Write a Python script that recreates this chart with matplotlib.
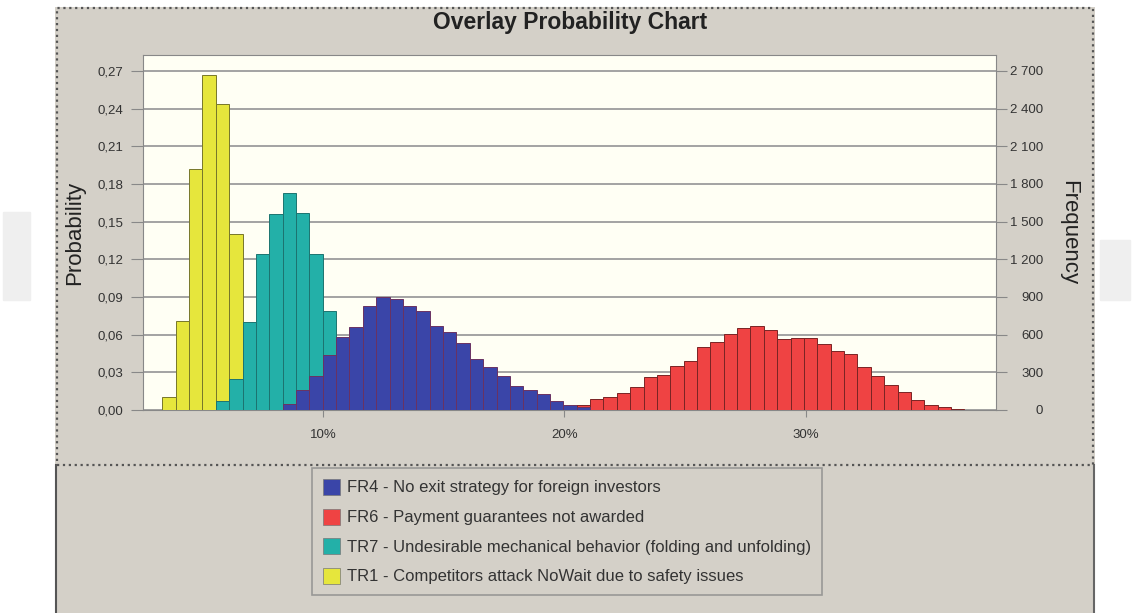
import matplotlib.pyplot as plt
from matplotlib.patches import Rectangle, Patch
from matplotlib.lines import Line2D
import numpy as np

plt.rcParams['font.family'] = ['Liberation Sans', 'DejaVu Sans']

# shared histogram bins (x axis in %)
bin_lo = 3.35
bin_w = 0.5535

# probability per bin, each series starts at its own first bin index
tr1_start = 0
tr1 = [0.010, 0.071, 0.192, 0.267, 0.244, 0.140]
tr7_start = 4
tr7 = [0.007, 0.025, 0.070, 0.124, 0.156, 0.173, 0.157, 0.124, 0.079]
fr4_start = 9
fr4 = [0.005, 0.016, 0.027, 0.044, 0.058, 0.066, 0.083, 0.090, 0.088, 0.083,
       0.079, 0.067, 0.062, 0.053, 0.041, 0.034, 0.027, 0.019, 0.016, 0.013,
       0.0074, 0.004, 0.0025]
fr6_start = 31
fr6 = [0.004, 0.0085, 0.010, 0.0135, 0.018, 0.0265, 0.028, 0.035, 0.039, 0.050,
       0.054, 0.0605, 0.0656, 0.067, 0.0637, 0.0563, 0.0576, 0.0576, 0.0526, 0.047,
       0.0443, 0.0345, 0.027, 0.020, 0.0146, 0.008, 0.004, 0.002, 0.001]

labels = {'fr4': 'FR4 - No exit strategy for foreign investors',
          'fr6': 'FR6 - Payment guarantees not awarded',
          'tr7': 'TR7 - Undesirable mechanical behavior (folding and unfolding)',
          'tr1': 'TR1 - Competitors attack NoWait due to safety issues'}
legend_order = ['fr4', 'fr6', 'tr7', 'tr1']

prob_ticks = [0.00, 0.03, 0.06, 0.09, 0.12, 0.15, 0.18, 0.21, 0.24, 0.27]
freq_ticks = [0, 300, 600, 900, 1200, 1500, 1800, 2100, 2400, 2700]
x_ticks = [10, 20, 30]

panel = '#d4d0c8'
fig = plt.figure(figsize=(11.35, 6.13), dpi=100)
fig.patch.set_facecolor('white')

W, H = 1135.0, 613.0
def fx(px):
    return px / W
def fy(py):
    return 1 - py / H

# faint watermark shapes behind the panel
fig.patches.append(Rectangle((fx(3), fy(300)), fx(27), (300 - 212) / H,
                             transform=fig.transFigure, color='#efefef', zorder=-20))
fig.patches.append(Rectangle((fx(1100), fy(300)), fx(30), (300 - 240) / H,
                             transform=fig.transFigure, color='#efefef', zorder=-20))

# grey chart panel
fig.patches.append(Rectangle((fx(55), 0), fx(1040), (H - 7) / H, transform=fig.transFigure,
                             facecolor=panel, edgecolor='none', zorder=-10))
fig.patches.append(Rectangle((fx(57), fy(465)), fx(1036), (465 - 8) / H,
                             transform=fig.transFigure, facecolor='none',
                             edgecolor='#555555', linestyle=':', linewidth=1.6, zorder=-5))
fig.lines.append(Line2D([fx(55.5), fx(55.5)], [0, fy(465)], transform=fig.transFigure,
                        color='#555555', lw=1.5, zorder=-5))
fig.lines.append(Line2D([fx(1094), fx(1094)], [0, fy(465)], transform=fig.transFigure,
                        color='#666666', lw=1.5, zorder=-5))

ax = fig.add_axes([fx(143), fy(410), fx(996 - 143), (410 - 55) / H])
ax.set_facecolor('#fffff4')

series = {
    'tr1': (tr1_start, tr1, '#e6e63c', '#77772a'),
    'tr7': (tr7_start, tr7, '#23b0a8', '#1c7470'),
    'fr4': (fr4_start, fr4, '#3a45a8', '#6a3262'),
    'fr6': (fr6_start, fr6, '#ef4343', '#7a2424'),
}
for key, (start, vals, col, edge) in series.items():
    lefts = bin_lo + bin_w * (start + np.arange(len(vals)))
    bars = ax.bar(lefts, vals, width=bin_w, align='edge', color=col,
                  edgecolor=edge, linewidth=0.7)
    # smaller bars sit in front where distributions overlap
    for b, v in zip(bars, vals):
        b.set_zorder(3 - v)

handles = [Patch(facecolor=series[k][2], edgecolor='#777777', linewidth=0.5)
           for k in legend_order]

ax.set_xlim(2.55, 37.87)
ax.set_ylim(0, 0.2827)
ax.set_yticks(prob_ticks)
ax.set_yticklabels([f'{v:.2f}'.replace('.', ',') for v in prob_ticks])
ax.set_xticks(x_ticks)
ax.set_xticklabels([f'{v}%' for v in x_ticks])
ax.yaxis.grid(True, color='#9c9c9c', linewidth=1.3, zorder=0)
ax.set_axisbelow(True)
for s in ax.spines.values():
    s.set_color('#888888')
ax.tick_params(axis='y', length=9, color='#888888', labelsize=9.5, labelcolor='#333333', pad=5)
ax.tick_params(axis='x', length=5, color='#888888', labelsize=9.5, labelcolor='#333333', pad=9)
ax.set_ylabel('Probability', fontsize=16, color='#222222', labelpad=9)

ax2 = ax.twinx()
ax2.set_ylim(0, 2827)
ax2.set_yticks(freq_ticks)
ax2.set_yticklabels([f'{v:,}'.replace(',', ' ') for v in freq_ticks], ha='right')
ax2.tick_params(axis='y', length=8, color='#888888', labelsize=9.5, labelcolor='#333333', pad=26)
for s in ax2.spines.values():
    s.set_visible(False)
ax2.set_ylabel('Frequency', fontsize=16, color='#222222', rotation=-90, labelpad=26)

fig.text(fx(570), fy(22), 'Overlay Probability Chart', ha='center', va='center',
         fontsize=16.5, fontweight='bold', color='#222222')

leg = fig.legend(handles, [labels[k] for k in legend_order], loc='upper left',
                 bbox_to_anchor=(fx(312), fy(468)),
                 fontsize=12, frameon=True, fancybox=False, facecolor=panel,
                 edgecolor='#8a8a8a', handlelength=1.0, handleheight=1.1,
                 handletextpad=0.45, labelspacing=0.78, borderpad=0.65, borderaxespad=0)
leg.get_frame().set_linewidth(1.2)
for t in leg.get_texts():
    t.set_color('#333333')

fig.savefig('out.png', dpi=100, facecolor=fig.get_facecolor())
